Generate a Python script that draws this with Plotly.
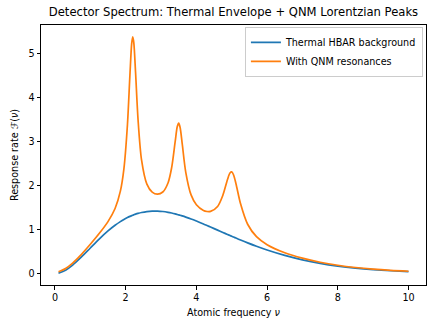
import plotly.graph_objects as go

# Atomic frequency samples
nu = [0.1, 0.3, 0.5, 0.75, 1.0, 1.25, 1.5, 1.7, 1.85, 1.95, 2.05, 2.12, 2.17, 2.2,
      2.23, 2.28, 2.35, 2.45, 2.6, 2.75, 2.9, 3.05, 3.2, 3.3, 3.4, 3.46, 3.5, 3.54,
      3.6, 3.7, 3.85, 4.0, 4.2, 4.3, 4.4, 4.6, 4.75, 4.88, 4.95, 5.0, 5.05, 5.12,
      5.25, 5.45, 5.7, 6.0, 6.5, 7.0, 7.5, 8.0, 8.5, 9.0, 9.5, 10.0]

# Thermal HBAR background
thermal = [0.0095, 0.0772, 0.1927, 0.3777, 0.5820, 0.7843, 0.9693, 1.0981, 1.1813,
           1.2299, 1.2729, 1.2997, 1.3171, 1.3269, 1.3361, 1.3504, 1.3682, 1.3889,
           1.4102, 1.4203, 1.4201, 1.4105, 1.3925, 1.3762, 1.3570, 1.3441, 1.3350,
           1.3255, 1.3106, 1.2841, 1.2408, 1.1941, 1.1279, 1.0937, 1.0588, 0.9883,
           0.9353, 0.8896, 0.8653, 0.8480, 0.8308, 0.8069, 0.7633, 0.6985, 0.6217,
           0.5367, 0.4135, 0.3131, 0.2335, 0.1718, 0.1250, 0.0900, 0.0642, 0.0454]

# With QNM resonances
qnm = [0.0417, 0.1153, 0.2387, 0.4380, 0.6653, 0.9092, 1.1821, 1.4797, 1.8729,
       2.3803, 3.3828, 4.5066, 5.2241, 5.3803, 5.2472, 4.5684, 3.4993, 2.5761,
       2.0318, 1.8499, 1.8038, 1.8542, 2.0654, 2.4046, 2.9971, 3.3407, 3.4189,
       3.3203, 2.9459, 2.3023, 1.7877, 1.5652, 1.4361, 1.4118, 1.4128, 1.5263,
       1.7826, 2.1376, 2.2858, 2.3099, 2.2465, 2.0433, 1.5856, 1.1216, 0.8393,
       0.6573, 0.4740, 0.3501, 0.2587, 0.1903, 0.1392, 0.1012, 0.0734, 0.0530]

x_ticks = [0, 2, 4, 6, 8, 10]
y_ticks = [0, 1, 2, 3, 4, 5]

FONT = "DejaVu Sans"
FS = 9.6

fig = go.Figure()
fig.add_trace(go.Scatter(x=nu, y=thermal, mode="lines", name="Thermal HBAR background",
                         line=dict(color="#1f77b4", width=1.7, shape="spline", smoothing=0.8)))
fig.add_trace(go.Scatter(x=nu, y=qnm, mode="lines", name="With QNM resonances",
                         line=dict(color="#ff7f0e", width=1.7, shape="spline", smoothing=0.8)))

xmin, xmax = min(nu), max(nu)
xs = xmax - xmin
ymax = max(qnm)
ymin = min(thermal)
ys = ymax - ymin

axis_common = dict(showline=True, linecolor="black", linewidth=1, mirror=True,
                   ticks="outside", ticklen=3.5, tickwidth=1, tickcolor="black",
                   showgrid=False, zeroline=False, automargin=False,
                   tickfont=dict(family=FONT, size=FS, color="black"))

fig.update_layout(
    width=436, height=327,
    margin=dict(l=41, r=10, t=25, b=42),
    paper_bgcolor="white", plot_bgcolor="white",
    font=dict(family=FONT, color="black"),
    title=dict(text="Detector Spectrum: Thermal Envelope + QNM Lorentzian Peaks",
               x=(41 + 426) / 2 / 436, xanchor="center", y=1 - 12 / 327, yanchor="middle",
               font=dict(family=FONT, size=11.6, color="black")),
    xaxis=dict(range=[xmin - 0.05 * xs, xmax + 0.05 * xs], tickvals=x_ticks,
               title=dict(text="Atomic frequency <i>ν</i>", font=dict(family=FONT, size=FS),
                          standoff=7),
               **axis_common),
    yaxis=dict(range=[ymin - 0.05 * ys, ymax + 0.05 * ys], tickvals=y_ticks,
               title=dict(text="Response rate ℱ(<i>ν</i>)", font=dict(family=FONT, size=FS),
                          standoff=8),
               **axis_common),
    legend=dict(x=0.992, xanchor="right", y=0.993, yanchor="top",
                bgcolor="rgba(255,255,255,0.8)", bordercolor="#cccccc", borderwidth=1,
                font=dict(family=FONT, size=FS, color="black"),
                itemwidth=30, tracegroupgap=0),
    showlegend=True,
)

fig.write_html("out.html", config={"displayModeBar": False},
               post_script="document.body.style.margin='0';")
